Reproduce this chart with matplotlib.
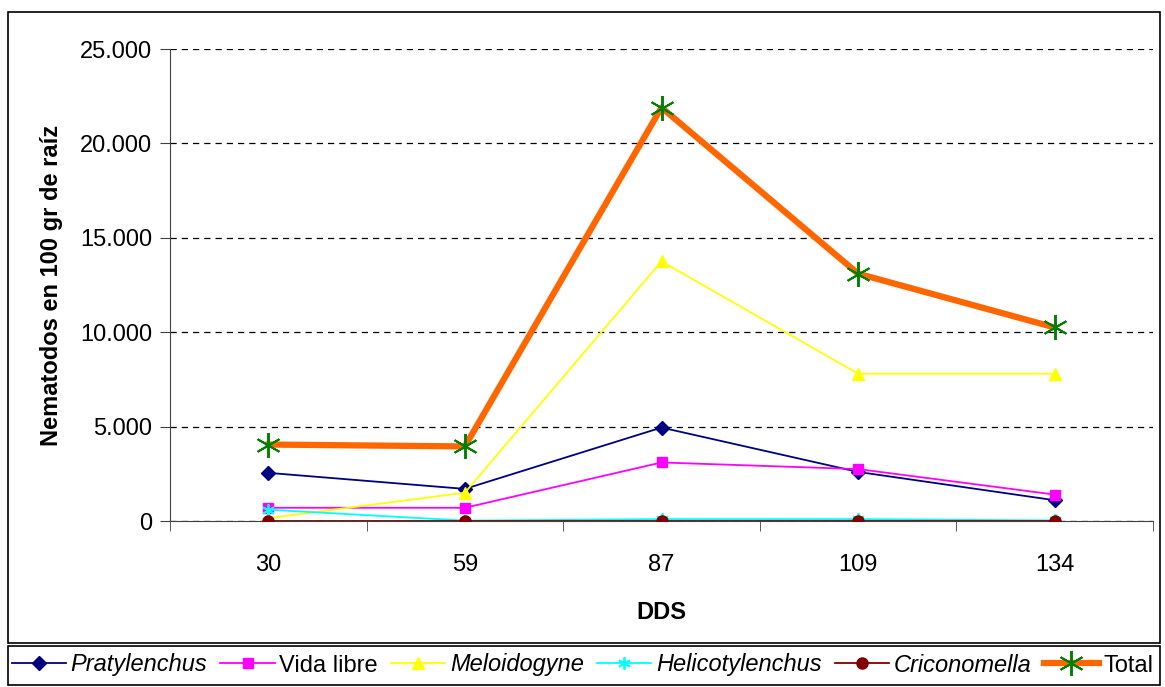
import matplotlib.pyplot as plt
from matplotlib.patches import Rectangle
from matplotlib.ticker import FuncFormatter

plt.rcParams['font.family'] = ['Liberation Sans', 'DejaVu Sans']

dds = ["30", "59", "87", "109", "134"]
pratylenchus = [2550, 1700, 4950, 2600, 1100]
vida_libre = [700, 700, 3100, 2750, 1400]
meloidogyne = [150, 1500, 13750, 7800, 7800]
helicotylenchus = [600, 20, 100, 100, 30]
criconomella = [20, 20, 20, 20, 20]
total = [4050, 3950, 21900, 13100, 10250]

W, H = 1165, 687
fig = plt.figure(figsize=(W / 100, H / 100), dpi=100)
ax = fig.add_axes([170 / W, 1 - 521 / H, (1153 - 170) / W, (521 - 49) / H])

x = list(range(len(dds)))
star = (6, 2, 0)

series = [
    ("Pratylenchus", pratylenchus, dict(color="#000080", marker="D", ms=7, lw=1.3), "italic"),
    ("Vida libre", vida_libre, dict(color="#FF00FF", marker="s", ms=7, lw=1.3), "normal"),
    ("Meloidogyne", meloidogyne, dict(color="#FFFF00", marker="^", ms=8, lw=1.3), "italic"),
    ("Helicotylenchus", helicotylenchus, dict(color="#00FFFF", marker=star, ms=9, lw=1.3, mew=1.3), "italic"),
    ("Criconomella", criconomella, dict(color="#800000", marker="o", ms=8, lw=1.3), "italic"),
    ("Total", total, dict(color="#FF6600", marker=star, ms=18, lw=4.5, mec="#008000", mew=1.4), "normal"),
]

for name, vals, style, _ in series:
    ax.plot(x, vals, label=name, zorder=3, **style)

ax.set_xlim(-0.5, 4.5)
ax.set_ylim(0, 25000)
ax.set_xticks(x)
ax.set_xticklabels(dds)
ax.set_xticks([i + 0.5 for i in range(-1, 5)], minor=True)
ax.tick_params(axis="x", which="major", length=0, labelsize=17, pad=24)
ax.tick_params(axis="x", which="minor", length=7, color="#404040")
ax.set_yticks(range(0, 25001, 5000))
ax.yaxis.set_major_formatter(FuncFormatter(lambda v, p: f"{int(v):,}".replace(",", ".")))
ax.tick_params(axis="y", length=7, labelsize=17, pad=6, color="#404040")
ax.grid(axis="y", color="black", linestyle=(0, (5, 4)), lw=0.9)
ax.set_axisbelow(True)
for s in ["top", "right"]:
    ax.spines[s].set_visible(False)
ax.spines["left"].set_color("#404040")
ax.spines["bottom"].set_color("#404040")

ax.set_xlabel("DDS", fontsize=17, fontweight="bold", labelpad=18)
ax.set_ylabel("Nematodos en 100 gr de raíz", fontsize=17, fontweight="bold", labelpad=12)

# chart and legend frames
fig.patches.append(Rectangle((8 / W, 1 - 643 / H), (1160 - 8) / W, (643 - 12) / H,
                             transform=fig.transFigure, fill=False, ec="black", lw=1.2))
fig.patches.append(Rectangle((8 / W, 1 - 685 / H), (1160 - 8) / W, (685 - 646) / H,
                             transform=fig.transFigure, fill=False, ec="black", lw=1.2))

leg = fig.legend(loc="center", bbox_to_anchor=(0.5, 1 - 665 / H), ncol=6, frameon=False,
                 fontsize=17, handlelength=2.3, handletextpad=0.2, columnspacing=0.55,
                 borderpad=0, borderaxespad=0)
for text, (_, _, _, st) in zip(leg.get_texts(), series):
    text.set_style(st)

fig.savefig("out.png", dpi=100)
